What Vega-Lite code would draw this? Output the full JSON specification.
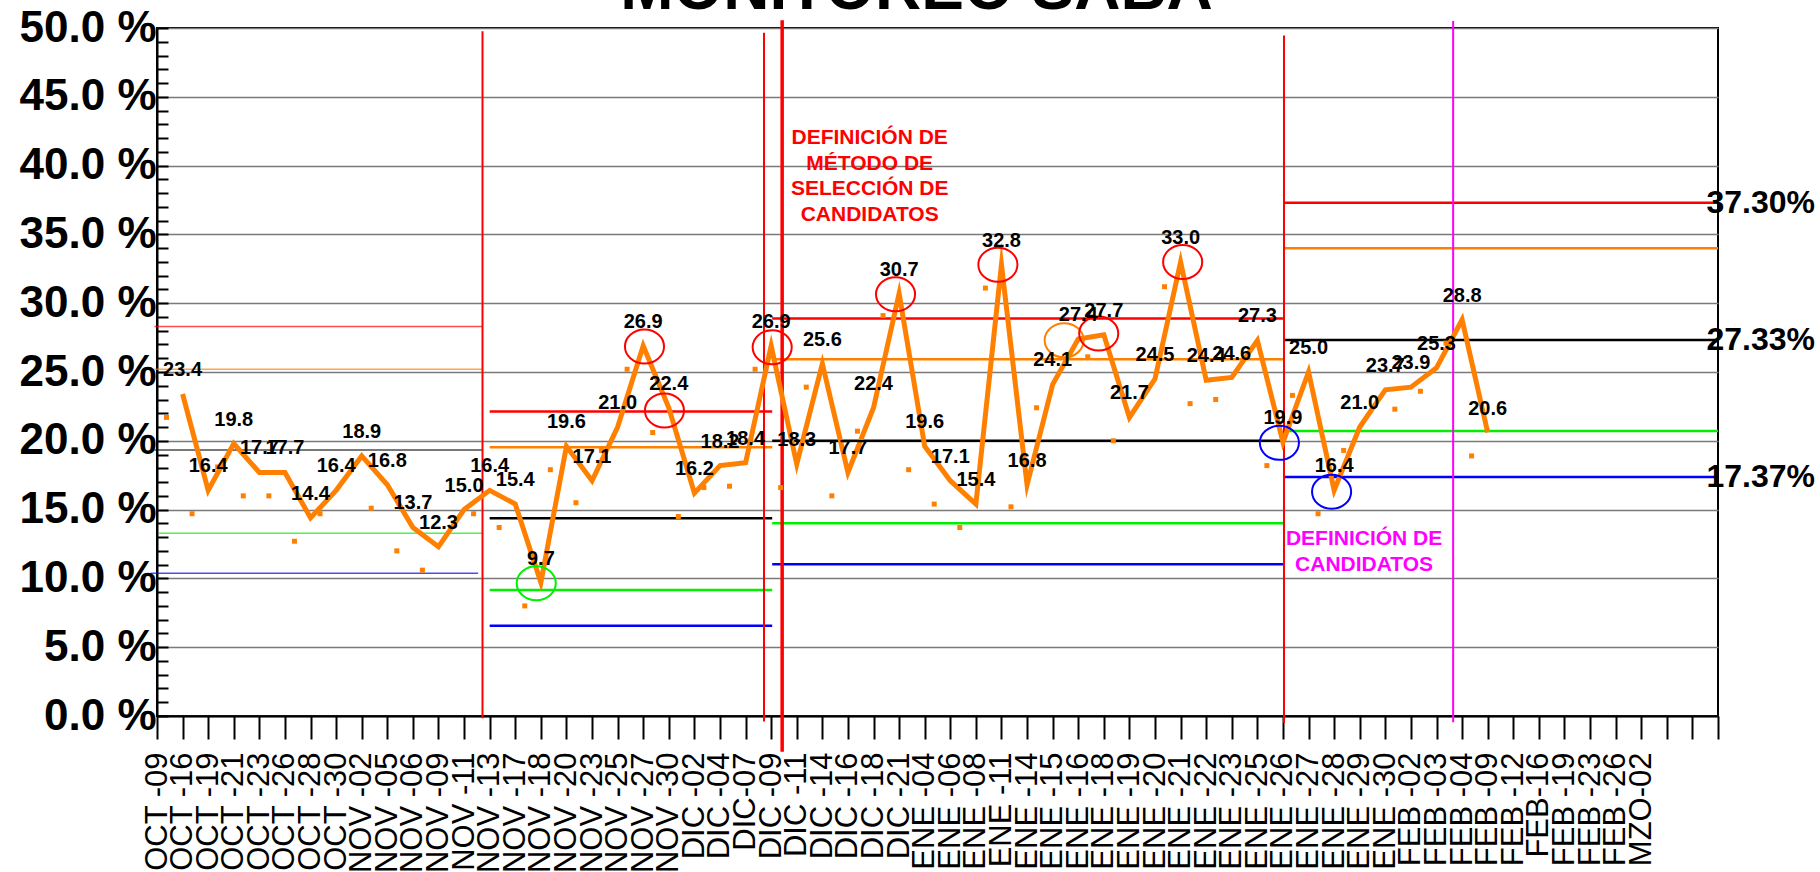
{
  "$schema": "https://vega.github.io/schema/vega-lite/v6.json",
  "width": 1561,
  "height": 688,
  "autosize": {"type": "none"},
  "padding": {"left": 157, "top": 28, "right": 102, "bottom": 156},
  "background": "white",
  "config": {"view": {"stroke": "black", "strokeWidth": 2}, "font": "Liberation Sans"},
  "title": {"text": "MONITOREO SABA", "font": "Liberation Sans", "fontSize": 64, "fontWeight": "bold", "color": "black", "anchor": "middle", "frame": "group", "baseline": "alphabetic", "offset": 0, "dy": 67, "dx": -21},
  "resolve": {"axis": {"x": "independent", "y": "independent"}},
  "datasets": {
    "limites": [
      {"periodo": 1, "desde": -0.1, "hasta": 12.72, "valor": 28.3, "tipo": "LCS"},
      {"periodo": 1, "desde": -0.1, "hasta": 12.72, "valor": 25.2, "tipo": "LAS"},
      {"periodo": 1, "desde": -0.1, "hasta": 12.72, "valor": 19.33, "tipo": "Media"},
      {"periodo": 1, "desde": 0.05, "hasta": 12.75, "valor": 13.28, "tipo": "LAI"},
      {"periodo": 1, "desde": -0.25, "hasta": 12.55, "valor": 10.38, "tipo": "LCI"},
      {"periodo": 2, "desde": 13.0, "hasta": 24.04, "valor": 22.13, "tipo": "LCS"},
      {"periodo": 2, "desde": 13.0, "hasta": 24.04, "valor": 19.54, "tipo": "LAS"},
      {"periodo": 2, "desde": 13.0, "hasta": 24.04, "valor": 14.38, "tipo": "Media"},
      {"periodo": 2, "desde": 13.0, "hasta": 24.04, "valor": 9.16, "tipo": "LAI"},
      {"periodo": 2, "desde": 13.0, "hasta": 24.04, "valor": 6.55, "tipo": "LCI"},
      {"periodo": 3, "desde": 24.04, "hasta": 44.0, "valor": 28.88, "tipo": "LCS"},
      {"periodo": 3, "desde": 24.04, "hasta": 44.0, "valor": 25.92, "tipo": "LAS"},
      {"periodo": 3, "desde": 24.04, "hasta": 44.0, "valor": 20.0, "tipo": "Media"},
      {"periodo": 3, "desde": 24.04, "hasta": 44.0, "valor": 14.0, "tipo": "LAI"},
      {"periodo": 3, "desde": 24.04, "hasta": 44.0, "valor": 11.03, "tipo": "LCI"},
      {"periodo": 4, "desde": 44.04, "hasta": 61, "valor": 37.3, "tipo": "LCS"},
      {"periodo": 4, "desde": 44.04, "hasta": 61, "valor": 34.0, "tipo": "LAS"},
      {"periodo": 4, "desde": 44.04, "hasta": 61, "valor": 27.33, "tipo": "Media"},
      {"periodo": 4, "desde": 44.04, "hasta": 61, "valor": 20.72, "tipo": "LAI"},
      {"periodo": 4, "desde": 44.04, "hasta": 61, "valor": 17.37, "tipo": "LCI"}
    ],
    "eventos": [
      {"pos": 12.72, "desde": -0.17, "hasta": 49.77, "tipo": "Corte"},
      {"pos": 23.72, "desde": -0.4, "hasta": 49.65, "tipo": "Corte"},
      {"pos": 24.43, "desde": -2.6, "hasta": 50.57, "tipo": "Método"},
      {"pos": 44.04, "desde": -0.5, "hasta": 49.45, "tipo": "Corte"},
      {"pos": 50.65, "desde": -0.45, "hasta": 50.5, "tipo": "Candidatos"}
    ],
    "serie": [
      {"pos": 0, "fecha": "OCT -09", "saba": null, "previo": 21.7},
      {"pos": 1, "fecha": "OCT -16", "saba": 23.4, "previo": 14.7},
      {"pos": 2, "fecha": "OCT -19", "saba": 16.4, "previo": 18.1},
      {"pos": 3, "fecha": "OCT -21", "saba": 19.8, "previo": 16.0},
      {"pos": 4, "fecha": "OCT -23", "saba": 17.7, "previo": 16.0},
      {"pos": 5, "fecha": "OCT -26", "saba": 17.7, "previo": 12.7},
      {"pos": 6, "fecha": "OCT -28", "saba": 14.4, "previo": 14.7},
      {"pos": 7, "fecha": "OCT -30", "saba": 16.4, "previo": null},
      {"pos": 8, "fecha": "NOV -02", "saba": 18.9, "previo": 15.1},
      {"pos": 9, "fecha": "NOV -05", "saba": 16.8, "previo": 12.0},
      {"pos": 10, "fecha": "NOV -06", "saba": 13.7, "previo": 10.6},
      {"pos": 11, "fecha": "NOV -09", "saba": 12.3, "previo": null},
      {"pos": 12, "fecha": "NOV -11", "saba": 15.0, "previo": 14.7},
      {"pos": 13, "fecha": "NOV -13", "saba": 16.4, "previo": 13.7},
      {"pos": 14, "fecha": "NOV -17", "saba": 15.4, "previo": 8.0},
      {"pos": 15, "fecha": "NOV -18", "saba": 9.7, "previo": 17.9},
      {"pos": 16, "fecha": "NOV -20", "saba": 19.6, "previo": 15.5},
      {"pos": 17, "fecha": "NOV -23", "saba": 17.1, "previo": 19.3},
      {"pos": 18, "fecha": "NOV -25", "saba": 21.0, "previo": 25.2},
      {"pos": 19, "fecha": "NOV -27", "saba": 26.9, "previo": 20.6},
      {"pos": 20, "fecha": "NOV -30", "saba": 22.4, "previo": 14.5},
      {"pos": 21, "fecha": "DIC -02", "saba": 16.2, "previo": 16.6},
      {"pos": 22, "fecha": "DIC -04", "saba": 18.2, "previo": 16.7},
      {"pos": 23, "fecha": "DIC-07", "saba": 18.4, "previo": 25.2},
      {"pos": 24, "fecha": "DIC -09", "saba": 26.9, "previo": 16.6},
      {"pos": 25, "fecha": "DIC -11", "saba": 18.3, "previo": 23.9},
      {"pos": 26, "fecha": "DIC -14", "saba": 25.6, "previo": 16.0},
      {"pos": 27, "fecha": "DIC -16", "saba": 17.7, "previo": 20.7},
      {"pos": 28, "fecha": "DIC -18", "saba": 22.4, "previo": 29.1},
      {"pos": 29, "fecha": "DIC -21", "saba": 30.7, "previo": 17.9},
      {"pos": 30, "fecha": "ENE -04", "saba": 19.6, "previo": 15.4},
      {"pos": 31, "fecha": "ENE -06", "saba": 17.1, "previo": 13.7},
      {"pos": 32, "fecha": "ENE -08", "saba": 15.4, "previo": 31.1},
      {"pos": 33, "fecha": "ENE -11", "saba": 32.8, "previo": 15.2},
      {"pos": 34, "fecha": "ENE -14", "saba": 16.8, "previo": 22.4},
      {"pos": 35, "fecha": "ENE -15", "saba": 24.1, "previo": null},
      {"pos": 36, "fecha": "ENE -16", "saba": 27.4, "previo": 26.1},
      {"pos": 37, "fecha": "ENE -18", "saba": 27.7, "previo": 20.0},
      {"pos": 38, "fecha": "ENE -19", "saba": 21.7, "previo": null},
      {"pos": 39, "fecha": "ENE -20", "saba": 24.5, "previo": 31.2},
      {"pos": 40, "fecha": "ENE -21", "saba": 33.0, "previo": 22.7},
      {"pos": 41, "fecha": "ENE -22", "saba": 24.4, "previo": 23.0},
      {"pos": 42, "fecha": "ENE -23", "saba": 24.6, "previo": null},
      {"pos": 43, "fecha": "ENE -25", "saba": 27.3, "previo": 18.2},
      {"pos": 44, "fecha": "ENE -26", "saba": 19.9, "previo": 23.3},
      {"pos": 45, "fecha": "ENE -27", "saba": 25.0, "previo": 14.7},
      {"pos": 46, "fecha": "ENE -28", "saba": 16.4, "previo": 19.3},
      {"pos": 47, "fecha": "ENE -29", "saba": 21.0, "previo": null},
      {"pos": 48, "fecha": "ENE -30", "saba": 23.7, "previo": 22.3},
      {"pos": 49, "fecha": "FEB -02", "saba": 23.9, "previo": 23.6},
      {"pos": 50, "fecha": "FEB -03", "saba": 25.3, "previo": 27.1},
      {"pos": 51, "fecha": "FEB -04", "saba": 28.8, "previo": 18.9},
      {"pos": 52, "fecha": "FEB -09", "saba": 20.6, "previo": null}
    ],
    "alertas": [
      {"pos": 14.82, "valor": 9.65, "tipo": "LAI"},
      {"pos": 19.05, "valor": 26.86, "tipo": "LCS"},
      {"pos": 19.83, "valor": 22.2, "tipo": "LCS"},
      {"pos": 24.04, "valor": 26.8, "tipo": "LCS"},
      {"pos": 28.86, "valor": 30.65, "tipo": "LCS"},
      {"pos": 32.86, "valor": 32.8, "tipo": "LCS"},
      {"pos": 35.45, "valor": 27.3, "tipo": "LAS"},
      {"pos": 36.8, "valor": 27.8, "tipo": "LCS"},
      {"pos": 40.08, "valor": 33.0, "tipo": "LCS"},
      {"pos": 43.86, "valor": 19.85, "tipo": "LCI"},
      {"pos": 45.9, "valor": 16.3, "tipo": "LCI"}
    ],
    "notas": [
      {"pos": 27.85, "valor": 42.8, "tipo": "Método", "texto": "DEFINICIÓN DE\nMÉTODO DE\nSELECCIÓN DE\nCANDIDATOS"},
      {"pos": 47.17, "valor": 13.63, "tipo": "Candidatos", "texto": "DEFINICIÓN DE\nCANDIDATOS"}
    ],
    "derecha": [
      {"pos": 60.55, "valor": 37.3, "texto": "37.30%"},
      {"pos": 60.55, "valor": 27.33, "texto": "27.33%"},
      {"pos": 60.55, "valor": 17.37, "texto": "17.37%"}
    ]
  },
  "layer": [
    {
      "data": {"name": "limites"},
      "mark": {"type": "rule"},
      "encoding": {
        "x": {
          "field": "desde", "type": "quantitative",
          "scale": {"domain": [0, 61], "nice": false, "zero": false},
          "axis": {
            "title": null,
            "values": [0,1,2,3,4,5,6,7,8,9,10,11,12,13,14,15,16,17,18,19,20,21,22,23,24,25,26,27,28,29,30,31,32,33,34,35,36,37,38,39,40,41,42,43,44,45,46,47,48,49,50,51,52,53,54,55,56,57,58,59,60,61],
            "labelExpr": "['OCT -09','OCT -16','OCT -19','OCT -21','OCT -23','OCT -26','OCT -28','OCT -30','NOV -02','NOV -05','NOV -06','NOV -09','NOV -11','NOV -13','NOV -17','NOV -18','NOV -20','NOV -23','NOV -25','NOV -27','NOV -30','DIC -02','DIC -04','DIC-07','DIC -09','DIC -11','DIC -14','DIC -16','DIC -18','DIC -21','ENE -04','ENE -06','ENE -08','ENE -11','ENE -14','ENE -15','ENE -16','ENE -18','ENE -19','ENE -20','ENE -21','ENE -22','ENE -23','ENE -25','ENE -26','ENE -27','ENE -28','ENE -29','ENE -30','FEB -02','FEB -03','FEB -04','FEB -09','FEB -12','FEB-16','FEB -19','FEB -23','FEB -26','MZO-02'][datum.value] || ''",
            "labelAngle": 270,
            "labelAlign": "right",
            "labelBaseline": "middle",
            "labelFont": "Liberation Sans",
            "labelFontSize": 31,
            "labelColor": "black",
            "labelPadding": 13,
            "labelOverlap": false,
            "labelFlush": false,
            "labelBound": false,
            "tickSize": 23,
            "tickWidth": 2,
            "tickColor": "black",
            "domainColor": "black",
            "domainWidth": 2,
            "grid": false
          }
        },
        "x2": {"field": "hasta"},
        "y": {
          "field": "valor", "type": "quantitative",
          "scale": {"domain": [0, 50], "nice": false, "zero": false},
          "axis": {
            "title": null,
            "values": [0,1,2,3,4,5,6,7,8,9,10,11,12,13,14,15,16,17,18,19,20,21,22,23,24,25,26,27,28,29,30,31,32,33,34,35,36,37,38,39,40,41,42,43,44,45,46,47,48,49,50],
            "labelExpr": "datum.value % 5 === 0 ? format(datum.value, '.1f') + ' %' : ''",
            "labelFont": "Liberation Sans",
            "labelFontSize": 44,
            "labelFontWeight": "bold",
            "labelColor": "black",
            "labelPadding": 12,
            "labelOverlap": false,
            "labelFlush": false,
            "labelBound": false,
            "tickSize": -11,
            "tickWidth": 2,
            "tickColor": "black",
            "domainColor": "black",
            "domainWidth": 2,
            "grid": true,
            "gridColor": "#7a7a7a",
            "gridWidth": 1.5,
            "gridOpacity": {"condition": {"test": "datum.value % 5 === 0", "value": 1}, "value": 0}
          }
        },
        "color": {"field": "tipo", "type": "nominal", "legend": null,
          "scale": {"domain": ["LCS","LAS","Media","LAI","LCI","Corte","Método","Candidatos"], "range": ["#FF0000","#FF8000","#000000","#00F000","#0000FF","#FF0000","#FF0000","#FF00FF"]}},
        "strokeWidth": {"condition": {"test": "datum.periodo === 1", "value": 1.5}, "value": 2.5},
        "opacity": {"condition": {"test": "datum.periodo === 1", "value": 0.7}, "value": 1}
      }
    },
    {
      "data": {"name": "eventos"},
      "mark": {"type": "rule", "clip": false},
      "encoding": {
        "x": {"field": "pos", "type": "quantitative", "scale": {"domain": [0, 61], "nice": false, "zero": false}, "axis": null},
        "y": {"field": "desde", "type": "quantitative", "scale": {"domain": [0, 50], "nice": false, "zero": false}, "axis": null},
        "y2": {"field": "hasta"},
        "color": {"field": "tipo", "type": "nominal", "legend": null,
          "scale": {"domain": ["LCS","LAS","Media","LAI","LCI","Corte","Método","Candidatos"], "range": ["#FF0000","#FF8000","#000000","#00F000","#0000FF","#FF0000","#FF0000","#FF00FF"]}},
        "strokeWidth": {"condition": {"test": "datum.tipo === 'Método'", "value": 3.5}, "value": 2}
      }
    },
    {
      "data": {"name": "serie"},
      "mark": {"type": "square", "filled": true, "color": "#FF8000", "size": 25, "xOffset": 9.5, "opacity": 1},
      "encoding": {
        "x": {"field": "pos", "type": "quantitative", "scale": {"domain": [0, 61], "nice": false, "zero": false}, "axis": null},
        "y": {"field": "previo", "type": "quantitative", "scale": {"domain": [0, 50], "nice": false, "zero": false}, "axis": null}
      }
    },
    {
      "data": {"name": "serie"},
      "mark": {"type": "line", "color": "#FF8000", "strokeWidth": 5, "strokeJoin": "miter", "strokeMiterLimit": 10},
      "encoding": {
        "x": {"field": "pos", "type": "quantitative", "scale": {"domain": [0, 61], "nice": false, "zero": false}, "axis": null},
        "y": {"field": "saba", "type": "quantitative", "scale": {"domain": [0, 50], "nice": false, "zero": false}, "axis": null}
      }
    },
    {
      "data": {"name": "alertas"},
      "mark": {"type": "point", "filled": false, "strokeWidth": 2, "size": 1156, "opacity": 1, "shape": "M -1.15 0 A 1.15 1 0 1 0 1.15 0 A 1.15 1 0 1 0 -1.15 0 Z"},
      "encoding": {
        "x": {"field": "pos", "type": "quantitative", "scale": {"domain": [0, 61], "nice": false, "zero": false}, "axis": null},
        "y": {"field": "valor", "type": "quantitative", "scale": {"domain": [0, 50], "nice": false, "zero": false}, "axis": null},
        "color": {"field": "tipo", "type": "nominal", "legend": null,
          "scale": {"domain": ["LCS","LAS","Media","LAI","LCI","Corte","Método","Candidatos"], "range": ["#FF0000","#FF8000","#000000","#00F000","#0000FF","#FF0000","#FF0000","#FF00FF"]}}
      }
    },
    {
      "data": {"name": "serie"},
      "mark": {"type": "text", "font": "Liberation Sans", "fontSize": 20, "fontWeight": "bold", "color": "black", "dy": -24, "align": "center", "baseline": "middle"},
      "encoding": {
        "x": {"field": "pos", "type": "quantitative", "scale": {"domain": [0, 61], "nice": false, "zero": false}, "axis": null},
        "y": {"field": "saba", "type": "quantitative", "scale": {"domain": [0, 50], "nice": false, "zero": false}, "axis": null},
        "text": {"field": "saba", "type": "quantitative", "format": ".1f"}
      }
    },
    {
      "data": {"name": "notas"},
      "mark": {"type": "text", "font": "Liberation Sans", "fontSize": 21, "fontWeight": "bold", "align": "center", "baseline": "top", "lineBreak": "\n", "lineHeight": 25.5},
      "encoding": {
        "x": {"field": "pos", "type": "quantitative", "scale": {"domain": [0, 61], "nice": false, "zero": false}, "axis": null},
        "y": {"field": "valor", "type": "quantitative", "scale": {"domain": [0, 50], "nice": false, "zero": false}, "axis": null},
        "text": {"field": "texto", "type": "nominal"},
        "color": {"field": "tipo", "type": "nominal", "legend": null,
          "scale": {"domain": ["LCS","LAS","Media","LAI","LCI","Corte","Método","Candidatos"], "range": ["#FF0000","#FF8000","#000000","#00F000","#0000FF","#FF0000","#FF0000","#FF00FF"]}}
      }
    },
    {
      "data": {"name": "derecha"},
      "mark": {"type": "text", "font": "Liberation Sans", "fontSize": 32, "fontWeight": "bold", "color": "black", "align": "left", "baseline": "middle", "clip": false},
      "encoding": {
        "x": {"field": "pos", "type": "quantitative", "scale": {"domain": [0, 61], "nice": false, "zero": false}, "axis": null},
        "y": {"field": "valor", "type": "quantitative", "scale": {"domain": [0, 50], "nice": false, "zero": false}, "axis": null},
        "text": {"field": "texto", "type": "nominal"}
      }
    }
  ]
}
